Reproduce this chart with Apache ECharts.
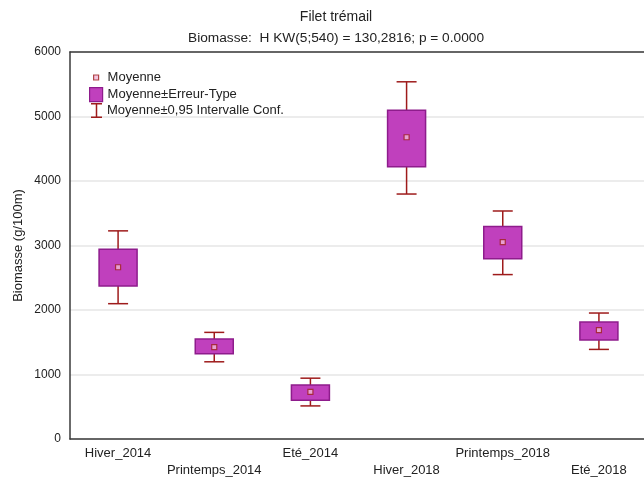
<!DOCTYPE html>
<html>
<head>
<meta charset="utf-8">
<script src="https://cdn.jsdelivr.net/npm/echarts@6/dist/echarts.min.js"></script>
<style>
html, body { margin: 0; padding: 0; background: #fff; }
#chart { width: 644px; height: 478px; }
</style>
</head>
<body>
<div id="chart"></div>
<script>
// données
const categories = ["Hiver_2014", "Printemps_2014", "Eté_2014", "Hiver_2018", "Printemps_2018", "Eté_2018"];
const moyenne = [2663, 1425, 730, 4678, 3052, 1689];
const seBas = [2373, 1321, 601, 4222, 2793, 1534];
const seHaut = [2943, 1549, 839, 5097, 3294, 1813];
const icBas = [2098, 1197, 513, 3798, 2549, 1389];
const icHaut = [3227, 1653, 943, 5538, 3535, 1953];

const boxFill = "#c040bd";
const boxBorder = "#8e1c8c";
const whiskerColor = "#9e1b1b";
const font = "Arial, 'Liberation Sans', sans-serif";

let myChart = echarts.init(document.getElementById("chart"));

myChart.setOption({
  animation: false,
  title: [
    {
      text: "Filet trémail",
      left: 331,
      top: 5,
      textAlign: "center",
      textStyle: { fontFamily: font, fontSize: 14, fontWeight: "normal", color: "#222" }
    },
    {
      text: "Biomasse:  H KW(5;540) = 130,2816; p = 0.0000",
      left: 331,
      top: 26,
      textAlign: "center",
      textStyle: { fontFamily: font, fontSize: 13.7, fontWeight: "normal", color: "#222" }
    }
  ],
  legend: [
    {
      data: [{
        name: "Moyenne",
        icon: "rect",
        itemStyle: { color: "#f0b8d8", borderColor: whiskerColor, borderWidth: 1.2 }
      }],
      left: 93,
      top: 71,
      padding: 0,
      itemWidth: 5,
      itemHeight: 5,
      textStyle: { fontFamily: font, fontSize: 13, color: "#222", padding: [0, 0, 0, 4] }
    },
    {
      data: [{
        name: "Moyenne±Erreur-Type",
        icon: "rect",
        itemStyle: { color: boxFill, borderColor: boxBorder, borderWidth: 1.2 }
      }],
      left: 89,
      top: 87,
      padding: 0,
      itemWidth: 13,
      itemHeight: 14,
      textStyle: { fontFamily: font, fontSize: 13, color: "#222" }
    },
    {
      data: [{
        name: "Moyenne±0,95 Intervalle Conf.",
        icon: "path://M0,0h11v1.5h-4.75v12h4.75v1.5h-11v-1.5h4.75v-12h-4.75z",
        itemStyle: { color: whiskerColor }
      }],
      left: 91,
      top: 103,
      padding: 0,
      itemWidth: 11,
      itemHeight: 15,
      textStyle: { fontFamily: font, fontSize: 13, color: "#222" }
    }
  ],
  grid: {
    left: 70,
    top: 52,
    width: 577,
    bottom: 39,
    outerBoundsMode: "none"
  },
  xAxis: [
    {
      type: "category",
      data: categories,
      position: "bottom",
      axisLine: { lineStyle: { color: "#3a3a3a", width: 1.5 } },
      axisTick: { inside: true, length: 3, alignWithLabel: true, lineStyle: { color: "#3a3a3a" } },
      axisLabel: {
        fontFamily: font,
        fontSize: 13,
        color: "#222",
        margin: 6,
        lineHeight: 17,
        interval: 0,
        formatter: (v, i) => (i % 2 ? "\n" + v : v)
      }
    },
    {
      type: "category",
      data: categories,
      position: "top",
      axisLine: { lineStyle: { color: "#3a3a3a", width: 1.5 } },
      axisTick: { inside: true, length: 3, alignWithLabel: true, lineStyle: { color: "#3a3a3a" } },
      axisLabel: { show: false }
    }
  ],
  yAxis: {
    type: "value",
    min: 0,
    max: 6000,
    interval: 1000,
    name: "Biomasse (g/100m)",
    nameLocation: "middle",
    nameGap: 45,
    nameMoveOverlap: false,
    nameTextStyle: { fontFamily: font, fontSize: 13, color: "#222" },
    axisLine: { show: true, lineStyle: { color: "#3a3a3a", width: 1.5 } },
    axisTick: { show: false },
    axisLabel: { fontFamily: font, fontSize: 12, color: "#222", margin: 9, formatter: v => String(v) },
    splitLine: { lineStyle: { color: "#e6e6e6", width: 1.5 } }
  },
  series: [
    {
      name: "Moyenne±0,95 Intervalle Conf.",
      type: "custom",
      itemStyle: { color: whiskerColor },
      data: categories.map((c, i) => [i, icBas[i], icHaut[i]]),
      renderItem: (params, api) => {
        const lo = api.coord([api.value(0), api.value(1)]);
        const hi = api.coord([api.value(0), api.value(2)]);
        const half = 10;
        const style = { stroke: whiskerColor, lineWidth: 1.5, fill: null };
        return {
          type: "group",
          children: [
            { type: "line", shape: { x1: lo[0], y1: lo[1], x2: hi[0], y2: hi[1] }, style: style },
            { type: "line", shape: { x1: lo[0] - half, y1: lo[1], x2: lo[0] + half, y2: lo[1] }, style: style },
            { type: "line", shape: { x1: hi[0] - half, y1: hi[1], x2: hi[0] + half, y2: hi[1] }, style: style }
          ]
        };
      },
      z: 2
    },
    {
      name: "Moyenne±Erreur-Type",
      type: "custom",
      itemStyle: { color: boxFill },
      data: categories.map((c, i) => [i, seBas[i], seHaut[i]]),
      renderItem: (params, api) => {
        const lo = api.coord([api.value(0), api.value(1)]);
        const hi = api.coord([api.value(0), api.value(2)]);
        const w = 38;
        return {
          type: "rect",
          shape: { x: lo[0] - w / 2, y: hi[1], width: w, height: lo[1] - hi[1] },
          style: { fill: boxFill, stroke: boxBorder, lineWidth: 1.5 }
        };
      },
      z: 3
    },
    {
      name: "Moyenne",
      type: "scatter",
      symbol: "rect",
      symbolSize: 5,
      itemStyle: { color: "#f0b8d8", borderColor: whiskerColor, borderWidth: 1.2 },
      data: categories.map((c, i) => [i, moyenne[i]]),
      z: 4
    }
  ]
});
</script>
</body>
</html>
